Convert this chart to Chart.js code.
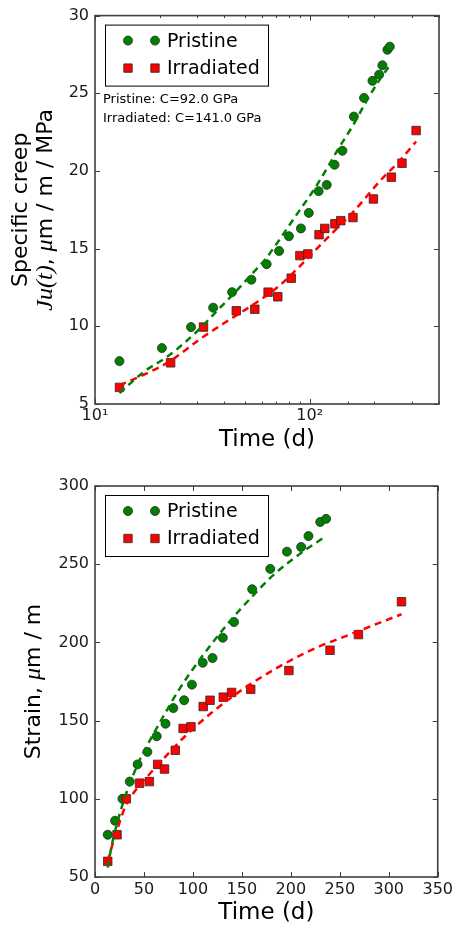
<!DOCTYPE html>
<html lang="en">
<head>
<meta charset="UTF-8" />
<title>Specific creep and strain</title>
<script src="https://cdn.jsdelivr.net/npm/chart.js"></script>
<style>
  body { margin: 0; background: #fff; }
  canvas { display: block; }
</style>
</head>
<body>
<canvas id="creep" width="456" height="470"></canvas>
<canvas id="strain" width="456" height="460"></canvas>

<script>
// measured points (time in days)
const pristineTime = [13, 20.5, 28, 35.5, 43.5, 53.5, 63, 72, 80, 91, 99, 110, 120, 130.5, 142, 160.5, 179, 196, 210.5, 218, 230, 236];
const pristineCreep = [7.76, 8.6, 9.95, 11.2, 12.2, 13.0, 14.0, 14.85, 15.8, 16.3, 17.3, 18.7, 19.1, 20.4, 21.3, 23.5, 24.7, 25.8, 26.2, 26.8, 27.8, 28.0];
const pristineStrain = [77, 86, 100, 111, 122, 130, 140, 148, 158, 163, 173, 187, 190, 203, 213, 234, 247, 258, 261, 268, 277, 279];

const irradTime = [13, 22.5, 32, 45.5, 55.5, 64, 71, 82, 90, 98, 110.5, 117.5, 131, 139.5, 159, 198, 240, 269, 313];
const irradCreep = [6.07, 7.65, 9.95, 11.0, 11.1, 12.2, 11.9, 13.1, 14.55, 14.66, 15.9, 16.3, 16.6, 16.8, 17.0, 18.2, 19.6, 20.5, 22.6];
const irradStrain = [60, 77, 100, 110, 111, 122, 119, 131, 145, 146, 159, 163, 165, 168, 170, 182, 195, 205, 226];

// fitted curves
const pristineFitTime = [13, 17, 22, 30, 37, 45, 54, 62, 70, 86, 107, 137, 160, 182, 210, 236];
const pristineFitCreep = [5.7, 7.1, 8.1, 9.7, 11.0, 12.2, 13.4, 14.3, 15.3, 17.1, 19.0, 21.5, 23.0, 24.4, 25.8, 26.8];
const pristineFitStrain = [56, 70, 83, 100, 112, 124, 135, 144, 153, 170, 189, 213, 229, 243, 257, 268];

const irradFitTime = [13, 17, 22, 31, 42, 56, 72, 92, 119, 158, 217, 260, 313];
const irradFitCreep = [6.2, 6.9, 7.7, 9.2, 10.4, 11.5, 12.6, 14.0, 15.6, 17.3, 19.5, 20.6, 21.9];
const irradFitStrain = [60, 69, 79, 95, 106, 116, 127, 140, 155, 173, 194, 205, 218];

const logTickLabels = { 10: "10¹", 100: "10²" };
const notes = ["Pristine: C=92.0 GPa", "Irradiated: C=141.0 GPa"];

const FONT = "'DejaVu Sans', sans-serif";
const GREEN = "#008000";
const RED = "#ff0000";
const EDGE = "rgba(40,40,40,0.8)";

Chart.defaults.font.family = FONT;
Chart.defaults.color = "#1a1a1a";

function xy(xs, ys) {
    return xs.map((x, i) => ({ x: x, y: ys[i] }));
}

function marker(ctx, style, x, y, color) {
    ctx.beginPath();
    if (style === "circle") ctx.arc(x, y, 4.5, 0, Math.PI * 2);
    else ctx.rect(x - 4.2, y - 4.2, 8.4, 8.4);
    ctx.fillStyle = color;
    ctx.fill();
    ctx.lineWidth = 1;
    ctx.strokeStyle = EDGE;
    ctx.stroke();
}

// one rotated line of text made of pieces in different fonts
function rotatedLine(ctx, cx, cy, segs) {
    ctx.save();
    ctx.translate(cx, cy);
    ctx.rotate(-Math.PI / 2);
    ctx.textBaseline = "middle";
    ctx.textAlign = "left";
    ctx.fillStyle = "#000";
    let w = 0;
    segs.forEach(s => { ctx.font = s[1]; w += ctx.measureText(s[0]).width; });
    let x = -w / 2;
    segs.forEach(s => {
        ctx.font = s[1];
        ctx.fillText(s[0], x, 0);
        x += ctx.measureText(s[0]).width;
    });
    ctx.restore();
}

// frame, inward ticks on all sides, y title, notes and legend
const decor = {
    id: "decor",
    afterDraw(chart, args, opts) {
        const ctx = chart.ctx;
        const a = chart.chartArea;
        ctx.save();
        ctx.strokeStyle = "#3a3a3a";
        ctx.lineWidth = 1;
        ["x", "y"].forEach(id => {
            const s = chart.scales[id];
            s.ticks.forEach(t => {
                const p = Math.round(s.getPixelForValue(t.value)) + 0.5;
                let len = 5;
                if (s.type === "logarithmic") {
                    const l = Math.log10(t.value);
                    len = Math.abs(l - Math.round(l)) < 1e-6 ? 5 : 2.5;
                }
                ctx.beginPath();
                if (id === "x") {
                    ctx.moveTo(p, a.bottom); ctx.lineTo(p, a.bottom - len);
                    ctx.moveTo(p, a.top); ctx.lineTo(p, a.top + len);
                } else {
                    ctx.moveTo(a.left, p); ctx.lineTo(a.left + len, p);
                    ctx.moveTo(a.right, p); ctx.lineTo(a.right - len, p);
                }
                ctx.stroke();
            });
        });
        ctx.lineWidth = 1.6;
        ctx.strokeStyle = "#404040";
        ctx.strokeRect(a.left, a.top, a.right - a.left, a.bottom - a.top);

        const cy = (a.top + a.bottom) / 2;
        opts.yTitle.forEach(line => rotatedLine(ctx, line.x, cy, line.segs));

        ctx.fillStyle = "#000";
        ctx.textAlign = "left";
        ctx.textBaseline = "middle";
        ctx.font = "13px " + FONT;
        (opts.notes || []).forEach((n, i) => ctx.fillText(n, a.left + 8, a.top + 84 + i * 19));

        const lx = a.left + 10, ly = a.top + 9;
        ctx.fillStyle = "#fff";
        ctx.fillRect(lx, ly, 163, 61);
        ctx.strokeStyle = "#000";
        ctx.lineWidth = 1;
        ctx.strokeRect(lx + 0.5, ly + 0.5, 163, 61);
        chart.data.datasets.filter(d => d.inLegend).forEach((d, i) => {
            const y = ly + 16 + i * 27.5;
            marker(ctx, d.pointStyle, lx + 23, y, d.backgroundColor);
            marker(ctx, d.pointStyle, lx + 50, y, d.backgroundColor);
            ctx.fillStyle = "#000";
            ctx.font = "19px " + FONT;
            ctx.fillText(d.label, lx + 62, y + 1);
        });
        ctx.restore();
    }
};

function makeChart(id, cfg) {
    const pointSet = (label, style, color, xs, ys, order) => ({
        label: label, data: xy(xs, ys), inLegend: true, order: order,
        pointStyle: style, pointRadius: style === "rect" ? 6 : 4.5,
        backgroundColor: color, borderColor: EDGE, borderWidth: 1, showLine: false
    });
    const fitSet = (color, xs, ys) => ({
        label: "fit", data: xy(xs, ys), order: 0, showLine: true, pointRadius: 0,
        borderColor: color, borderWidth: 2.5, borderDash: [7, 5],
        cubicInterpolationMode: "monotone", fill: false
    });
    return new Chart(document.getElementById(id), {
        type: "scatter",
        data: {
            datasets: [
                pointSet("Pristine", "circle", GREEN, pristineTime, cfg.pristine, 2),
                pointSet("Irradiated", "rect", RED, irradTime, cfg.irrad, 1),
                fitSet(GREEN, pristineFitTime, cfg.pristineFit),
                fitSet(RED, irradFitTime, cfg.irradFit)
            ]
        },
        options: {
            responsive: false,
            animation: false,
            devicePixelRatio: 1,
            layout: { padding: { top: cfg.top, right: 17, left: 0, bottom: 0 } },
            plugins: {
                legend: { display: false },
                tooltip: { enabled: false },
                decor: { yTitle: cfg.yTitle, notes: cfg.notes }
            },
            scales: {
                x: Object.assign({
                    grid: { display: false, drawTicks: false },
                    border: { display: false },
                    title: { display: true, text: "Time (d)", color: "#000", font: { size: 23 }, padding: { top: 0, bottom: cfg.titlePad } },
                    afterFit: s => { s.height = cfg.xHeight; }
                }, cfg.x),
                y: {
                    min: cfg.yMin, max: cfg.yMax,
                    grid: { display: false, drawTicks: false },
                    border: { display: false },
                    ticks: { stepSize: cfg.yStep, padding: 6, font: { size: 16 } },
                    afterFit: s => { s.width = 95; }
                }
            }
        },
        plugins: [decor]
    });
}

const SANS = "22px " + FONT;
const MATH = "italic 24px 'Liberation Serif', serif";

makeChart("creep", {
    pristine: pristineCreep, irrad: irradCreep,
    pristineFit: pristineFitCreep, irradFit: irradFitCreep,
    top: 14, xHeight: 66, titlePad: 16,
    yMin: 5, yMax: 30, yStep: 5,
    x: {
        type: "logarithmic", min: 10, max: 400,
        ticks: { autoSkip: false, maxRotation: 0, padding: 2, font: { size: 16 },
                 callback: v => logTickLabels[v] || "" }
    },
    yTitle: [
        { x: 21, segs: [["Specific creep", SANS]] },
        { x: 46, segs: [["Ju(t)", MATH], [", ", SANS], ["μ", MATH], ["m / m / MPa", SANS]] }
    ],
    notes: notes
});

makeChart("strain", {
    pristine: pristineStrain, irrad: irradStrain,
    pristineFit: pristineFitStrain, irradFit: irradFitStrain,
    top: 16, xHeight: 53, titlePad: 3,
    yMin: 50, yMax: 300, yStep: 50,
    x: {
        type: "linear", min: 0, max: 350,
        ticks: { stepSize: 50, maxRotation: 0, padding: 3, font: { size: 16 } }
    },
    yTitle: [
        { x: 34, segs: [["Strain, ", SANS], ["μ", MATH], ["m / m", SANS]] }
    ]
});
</script>
</body>
</html>
